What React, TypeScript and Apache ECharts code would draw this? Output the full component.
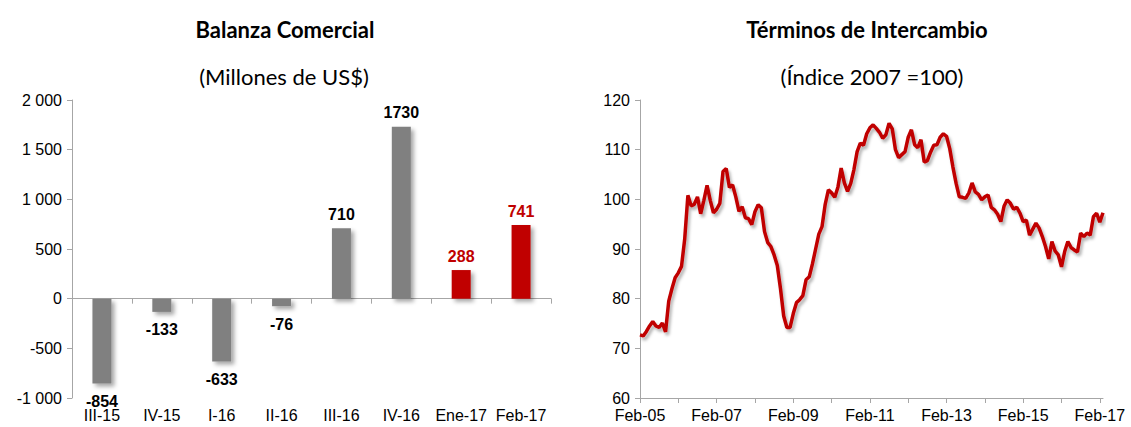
import React, { useEffect, useRef } from "react";
import * as echarts from "echarts";

// ---- Balanza Comercial (Millones de US$)
const barCategories = ["III-15", "IV-15", "I-16", "II-16", "III-16", "IV-16", "Ene-17", "Feb-17"];
const barValues = [-854, -133, -633, -76, 710, 1730, 288, 741];
const monthlyBarCategories = ["Ene-17", "Feb-17"];
const barTicks = [-1000, -500, 0, 500, 1000, 1500, 2000];

// ---- Términos de Intercambio (Índice 2007 = 100), monthly Feb-05 .. Mar-17
const termsStart = { year: 2005, month: 1 }; // month index 1 = Feb
const monthNames = ["Ene", "Feb", "Mar", "Abr", "May", "Jun", "Jul", "Ago", "Set", "Oct", "Nov", "Dic"];
const termsValues = [
  72.7, 72.5, 73.4, 74.5, 75.4, 74.5, 74.2, 75.1, 73.3, 79.5, 82.0, 84.2,
  85.2, 86.5, 92.0, 100.8, 98.7, 99.0, 100.5, 97.1, 99.8, 102.8, 99.8, 97.3,
  98.0, 99.2, 105.6, 106.2, 102.4, 102.9, 100.5, 97.6, 98.5, 96.3, 96.1, 94.9,
  97.5, 98.9, 98.3, 93.5, 91.3, 90.5, 88.8, 86.7, 82.0, 76.5, 74.2, 74.2,
  77.0, 79.2, 79.8, 80.6, 83.8, 84.4, 87.0, 90.0, 93.0, 94.5, 99.0, 101.9,
  101.3, 100.4, 102.5, 106.3, 103.3, 101.6, 103.2, 106.0, 109.6, 111.3, 110.9, 113.2,
  114.4, 115.0, 114.3, 113.5, 112.3, 113.0, 115.3, 114.2, 110.0, 108.4, 109.0, 109.6,
  112.5, 114.0, 111.0, 110.4, 112.0, 107.5, 107.8, 109.5, 110.9, 111.0, 112.5, 113.2,
  112.7, 110.2, 106.5, 103.2, 100.5, 100.4, 100.2, 101.3, 103.3, 101.5, 101.0, 99.9,
  100.5, 100.9, 98.4, 97.9, 97.0, 95.5, 98.6, 99.9, 99.2, 98.0, 98.4, 97.2,
  95.5, 95.8, 92.8, 94.0, 95.2, 94.2, 92.5, 90.5, 88.0, 91.5, 89.6, 88.8,
  86.4, 89.5, 91.5, 90.3, 89.8, 89.4, 93.2, 92.5, 93.2, 92.8, 96.5, 97.2,
  95.4, 97.3,
];
const termsCategories = termsValues.map((_, i) => {
  const m = termsStart.month + i;
  const y = termsStart.year + Math.floor(m / 12);
  return monthNames[m % 12] + "-" + String(y % 100).padStart(2, "0");
});

const GRAY = "#808080";
const RED = "#C00000";
const AXIS = "#A6A6A6";
const AXIS_FONT = "Liberation Sans, Arial, sans-serif";
const TITLE_FONT = "Lato, Carlito, Calibri, sans-serif";

function fmtThousands(v: number) {
  const s = Math.abs(v).toString().replace(/\B(?=(\d{3})+(?!\d))/g, " ");
  return (v < 0 ? "-" : "") + s;
}

export default function App() {
  const ref = useRef<HTMLDivElement>(null);
  useEffect(() => {
    if (!ref.current) return;
    const chart = echarts.init(ref.current, null, { renderer: "svg" });
    const barData = barValues.map((v, i) => {
      const isMonthly = monthlyBarCategories.includes(barCategories[i]);
      const c = isMonthly ? RED : GRAY;
      return {
        value: v,
        itemStyle: { color: c },
        label: {
          position: v < 0 ? "bottom" : "top",
          distance: v < 0 ? 10 : 6,
          color: isMonthly ? RED : "#000",
        },
      };
    });
    const titleCommon = { textAlign: "center" };
    chart.setOption({
      animation: false,
      title: [
        { ...titleCommon, text: "Balanza Comercial", left: 280, top: 13, textStyle: { fontFamily: TITLE_FONT, fontWeight: "bold", fontSize: 22, color: "#000" } },
        { ...titleCommon, text: "(Millones de US$)", left: 279, top: 60, textStyle: { fontFamily: TITLE_FONT, fontWeight: "normal", fontSize: 22, color: "#000" } },
        { ...titleCommon, text: "Términos de Intercambio", left: 862, top: 13, textStyle: { fontFamily: TITLE_FONT, fontWeight: "bold", fontSize: 22, color: "#000" } },
        { ...titleCommon, text: "(Índice 2007 =100)", left: 867, top: 60, textStyle: { fontFamily: TITLE_FONT, fontWeight: "normal", fontSize: 22, color: "#000" } },
      ],
      grid: [
        { left: 72, right: 580, top: 100, bottom: 29, containLabel: false, outerBoundsMode: "none" },
        { left: 640, right: 28, top: 100, bottom: 29, containLabel: false, outerBoundsMode: "none" },
      ],
      xAxis: [
        {
          gridIndex: 0,
          type: "category",
          data: barCategories,
          axisLine: { show: true, onZero: true, lineStyle: { color: AXIS, width: 1 } },
          axisTick: { show: true, length: 5, lineStyle: { color: AXIS } },
          axisLabel: { interval: 0, margin: 9, fontSize: 16, color: "#000", fontFamily: AXIS_FONT },
          splitLine: { show: false },
        },
        {
          gridIndex: 1,
          type: "category",
          data: termsCategories,
          boundaryGap: false,
          axisLine: { show: true, onZero: false, lineStyle: { color: AXIS, width: 1 } },
          axisTick: { show: true, length: 5, interval: 11, lineStyle: { color: AXIS } },
          axisLabel: { interval: 23, margin: 9, fontSize: 16, color: "#000", fontFamily: AXIS_FONT },
          splitLine: { show: false },
        },
      ],
      yAxis: [
        {
          gridIndex: 0,
          type: "value",
          min: barTicks[0],
          max: barTicks[barTicks.length - 1],
          interval: 500,
          axisLine: { show: true, lineStyle: { color: AXIS, width: 1 } },
          axisTick: { show: true, length: 5, lineStyle: { color: AXIS } },
          axisLabel: { margin: 10, fontSize: 16, color: "#000", fontFamily: AXIS_FONT, formatter: (v: number) => fmtThousands(v) },
          splitLine: { show: false },
        },
        {
          gridIndex: 1,
          type: "value",
          min: 60,
          max: 120,
          interval: 10,
          axisLine: { show: true, lineStyle: { color: AXIS, width: 1 } },
          axisTick: { show: true, length: 5, lineStyle: { color: AXIS } },
          axisLabel: { margin: 10, fontSize: 16, color: "#000", fontFamily: AXIS_FONT },
          splitLine: { show: false },
        },
      ],
      series: [
        {
          type: "bar",
          xAxisIndex: 0,
          yAxisIndex: 0,
          barWidth: 19,
          data: barData,
          itemStyle: {
            shadowColor: "rgba(0,0,0,0.35)",
            shadowBlur: 4,
            shadowOffsetX: 3,
            shadowOffsetY: 3,
          },
          label: {
            show: true,
            fontSize: 16,
            fontWeight: "bold",
            fontFamily: AXIS_FONT,
            formatter: (p: any) => String(p.value),
          },
        },
        {
          type: "line",
          xAxisIndex: 1,
          yAxisIndex: 1,
          data: termsValues,
          symbol: "none",
          showSymbol: false,
          lineStyle: {
            color: RED,
            width: 3.5,
            shadowColor: "rgba(0,0,0,0.3)",
            shadowBlur: 3,
            shadowOffsetX: 2,
            shadowOffsetY: 3,
          },
          itemStyle: { color: RED },
        },
      ],
    });
    return () => chart.dispose();
  }, []);
  return (
    <div
      ref={ref}
      style={{ position: "absolute", left: 0, top: 0, width: 1131, height: 427, background: "#fff" }}
    />
  );
}
